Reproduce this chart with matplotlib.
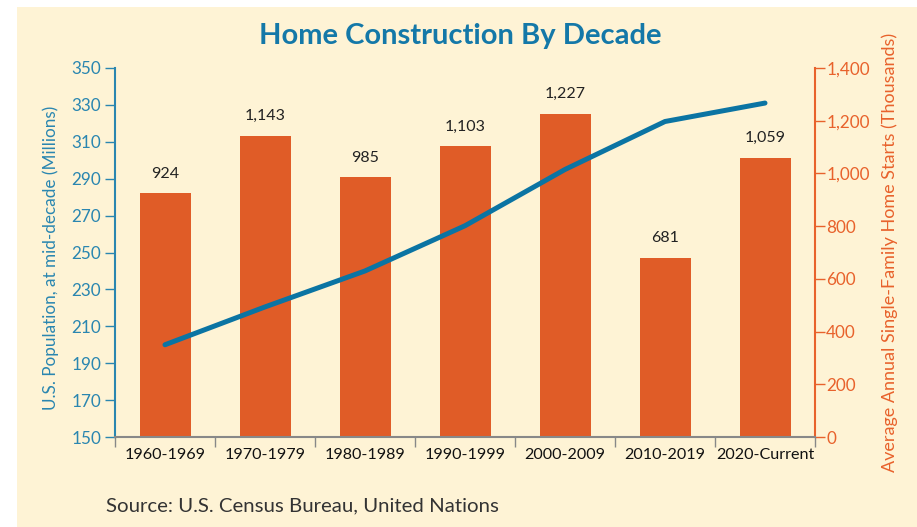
"""Home construction by decade: bars for housing starts, line for population."""
import matplotlib
matplotlib.use('Agg')
import matplotlib.pyplot as plt
from matplotlib.patches import Rectangle
from matplotlib.ticker import FuncFormatter

decades = ['1960-1969', '1970-1979', '1980-1989', '1990-1999',
           '2000-2009', '2010-2019', '2020-Current']
starts = [924, 1143, 985, 1103, 1227, 681, 1059]
population = [200, 220.5, 240, 264.5, 295, 321, 331]

pop_ticks = list(range(150, 351, 20))
start_ticks = list(range(0, 1401, 200))

bg = '#fef3d5'
barc = '#e05c27'
linec = '#0b74a3'
leftc = '#2a86b0'
rightc = '#e8622c'

plt.rcParams['font.family'] = ['Lato', 'DejaVu Sans']

fig = plt.figure(figsize=(9.17, 5.27), dpi=100)
fig.patch.set_facecolor('white')
fig.patches.append(Rectangle((17 / 917, 0), 1, 1 - 7 / 527, transform=fig.transFigure,
                             facecolor=bg, edgecolor='none', zorder=-10))

ax = fig.add_axes([115 / 917, 1 - 437 / 527, 700 / 917, 369 / 527])
ax2 = ax.twinx()
ax.set_zorder(2)
ax2.set_zorder(1)
ax.patch.set_visible(False)
ax2.patch.set_visible(False)

x = list(range(len(decades)))
ax2.bar(x, starts, width=0.51, color=barc, zorder=2)
for xi, v in zip(x, starts):
    ax2.annotate('{:,}'.format(v), (xi, v), xytext=(0, 9), textcoords='offset points',
                 ha='center', va='bottom', fontsize=11.5, color='#222222')

ax.plot(x, population, color=linec, lw=3.6, solid_capstyle='round',
        solid_joinstyle='round', zorder=3)

ax.set_xlim(-0.5, len(decades) - 0.5)
ax.set_ylim(150, 350)
ax2.set_ylim(0, 1400)

# category boundary ticks, labels in the middle
ax.set_xticks([i - 0.5 for i in range(len(decades) + 1)])
ax.set_xticklabels([])
ax.set_xticks(x, minor=True)
ax.set_xticklabels(decades, minor=True, fontsize=11.6, color='#111111')
ax.tick_params(axis='x', which='major', length=7, width=1, color='#888888', direction='out')
ax.tick_params(axis='x', which='minor', length=0, pad=8)

ax.set_yticks(pop_ticks)
ax.tick_params(axis='y', length=7, width=1, color=leftc, labelcolor=leftc,
               labelsize=12.3, pad=3)
ax2.set_yticks(start_ticks)
ax2.yaxis.set_major_formatter(FuncFormatter(lambda v, p: '{:,}'.format(int(v))))
ax2.tick_params(axis='y', length=7, width=1, color=rightc, labelcolor=rightc,
                labelsize=12.3, pad=1)

for a in (ax, ax2):
    a.spines['top'].set_visible(False)
ax.spines['right'].set_visible(False)
ax2.spines['left'].set_visible(False)
ax2.spines['bottom'].set_visible(False)
ax.spines['left'].set_color(leftc)
ax.spines['bottom'].set_color('#888888')
ax.spines['bottom'].set_linewidth(1.5)
ax2.spines['right'].set_color(rightc)
ax2.spines['right'].set_linewidth(1.5)
ax.spines['left'].set_linewidth(1.5)

ax.set_ylabel('U.S. Population, at mid-decade (Millions)', color=leftc, fontsize=12.3)
ax.yaxis.set_label_coords(-56 / 700, 0.486)
ax2.set_ylabel('Average Annual Single-Family Home Starts (Thousands)', color=rightc,
               fontsize=13, rotation=90)
ax2.yaxis.set_label_coords(1 + 66 / 700, 0.5)

fig.text(460 / 917, 1 - 36 / 527, 'Home Construction By Decade', ha='center', va='center',
         fontsize=21, fontweight='bold', color='#1478a8')
fig.text(106 / 917, 1 - 506 / 527, 'Source: U.S. Census Bureau, United Nations',
         ha='left', va='center', fontsize=14.7, color='#333333')

fig.savefig('out.png', dpi=100, facecolor=fig.get_facecolor())
